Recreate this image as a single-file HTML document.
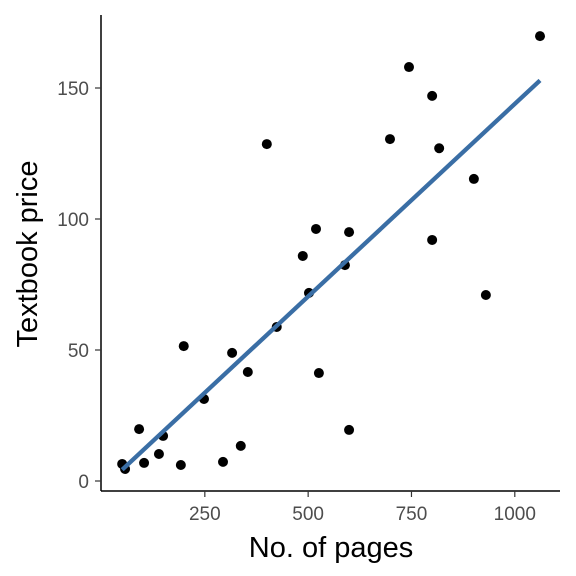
<!DOCTYPE html>
<html><head><meta charset="utf-8">
<style>
body{margin:0;background:#fff;}
svg{display:block;font-family:"Liberation Sans",sans-serif;}
</style></head>
<body>
<svg id="chart" width="576" height="576" viewBox="0 0 576 576">
<g id="axes"></g>
<g id="marks"></g>
</svg>
<script>
const pages = [50,57,91,103,139,149,192,199,248,294,316,337,354,400,424,487,502,519,526,589,599,599,698,744,800,800,817,901,930,1061];
const prices = [6.5,4.6,19.8,6.9,10.3,17.2,6.1,51.5,31.3,7.3,48.9,13.4,41.6,128.6,58.8,85.9,71.8,96.2,41.2,82.4,95,19.5,130.5,158,147,92,127,115.3,71,169.8];
const xTicks = [250,500,750,1000];
const yTicks = [0,50,100,150];

const NS='http://www.w3.org/2000/svg';
const xs = v => 101.5 + v*0.4133;
const ys = v => 481 - v*2.62;
function mk(tag, attrs, parent){const e=document.createElementNS(NS,tag);for(const k in attrs)e.setAttribute(k,attrs[k]);parent.appendChild(e);return e;}
const axes=document.getElementById('axes'), marks=document.getElementById('marks');

let a=mk('line',{x1:101,y1:491,x2:560,y2:491,stroke:'#000','stroke-width':1.5},axes);

a=mk('line',{x1:101,y1:15,x2:101,y2:491,stroke:'#000','stroke-width':1.5},axes);


xTicks.forEach(t=>{
  const x=xs(t);
  let l=mk('line',{x1:x,y1:491,x2:x,y2:497,stroke:'#333','stroke-width':1.2},axes);
  
  let tx=mk('text',{x:x,y:520,'text-anchor':'middle','font-size':19,fill:'#4d4d4d'},axes);
  tx.textContent=t;
  
});
yTicks.forEach(t=>{
  const y=ys(t);
  let l=mk('line',{x1:95,y1:y,x2:101,y2:y,stroke:'#333','stroke-width':1.2},axes);
  
  let tx=mk('text',{x:89,y:y+7,'text-anchor':'end','font-size':19,fill:'#4d4d4d'},axes);
  tx.textContent=t;
  
});
let xt=mk('text',{x:331,y:557,'text-anchor':'middle','font-size':29,fill:'#000'},axes);
xt.textContent='No. of pages';

let yt=mk('text',{x:0,y:0,'text-anchor':'middle','font-size':29,fill:'#000',transform:'translate(37,254) rotate(-90)'},axes);
yt.textContent='Textbook price';


pages.forEach((p,i)=>{
  const c=mk('circle',{cx:xs(p),cy:ys(prices[i]),r:5,fill:'#000'},marks);
  
  
});

const n=pages.length;
const mx=pages.reduce((s,v)=>s+v,0)/n, my=prices.reduce((s,v)=>s+v,0)/n;
let sxy=0,sxx=0;
for(let i=0;i<n;i++){sxy+=(pages[i]-mx)*(prices[i]-my);sxx+=(pages[i]-mx)**2;}
const b=sxy/sxx, a0=my-b*mx;
const x0=Math.min(...pages), x1=Math.max(...pages);
const fl=mk('line',{x1:xs(x0),y1:ys(a0+b*x0),x2:xs(x1),y2:ys(a0+b*x1),stroke:'#3a6ea5','stroke-width':4.3},marks);


</script>
</body></html>
